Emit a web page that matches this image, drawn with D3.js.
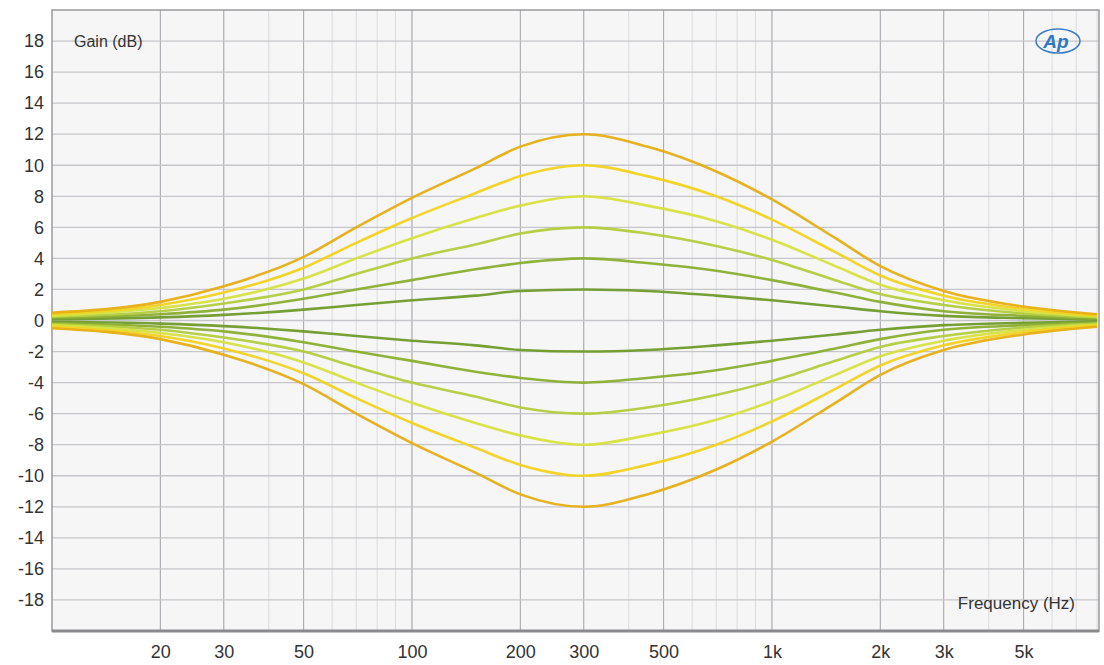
<!DOCTYPE html>
<html><head><meta charset="utf-8">
<script src="https://cdn.jsdelivr.net/npm/d3@7"></script>
<style>body{margin:0;background:#fff}svg text{font-family:"Liberation Sans",Arial,sans-serif}</style>
</head><body><svg id="c" width="1104" height="665"></svg>
<script>
const freqs=[10,20,30,50,70,100,150,200,300,450,700,1000,1500,2000,3000,5000,8000];
const g12=[0.5,1.2,2.2,4.1,6.0,7.9,9.8,11.2,12,11.2,9.6,7.8,5.3,3.5,1.9,0.9,0.4];
const g10=[0.4,1.0,1.8,3.4,5.0,6.6,8.2,9.3,10,9.3,8.0,6.5,4.4,2.9,1.6,0.75,0.33];
const g8=[0.3,0.8,1.4,2.7,4.0,5.3,6.6,7.4,8,7.4,6.4,5.2,3.5,2.3,1.3,0.6,0.26];
const g6=[0.24,0.6,1.1,2.0,3.0,4.0,4.9,5.6,6,5.6,4.8,3.9,2.6,1.7,1.0,0.45,0.2];
const g4=[0.16,0.4,0.7,1.4,2.0,2.6,3.3,3.7,4,3.7,3.2,2.6,1.8,1.2,0.6,0.3,0.13];
const g2=[0.08,0.2,0.36,0.7,1.0,1.3,1.6,1.9,2,1.9,1.6,1.3,0.9,0.6,0.3,0.15,0.07];
const m2=[-0.08,-0.2,-0.36,-0.7,-1.0,-1.3,-1.6,-1.9,-2,-1.9,-1.6,-1.3,-0.9,-0.6,-0.3,-0.15,-0.07];
const m4=[-0.16,-0.4,-0.7,-1.4,-2.0,-2.6,-3.3,-3.7,-4,-3.7,-3.2,-2.6,-1.8,-1.2,-0.6,-0.3,-0.13];
const m6=[-0.24,-0.6,-1.1,-2.0,-3.0,-4.0,-4.9,-5.6,-6,-5.6,-4.8,-3.9,-2.6,-1.7,-1.0,-0.45,-0.2];
const m8=[-0.3,-0.8,-1.4,-2.7,-4.0,-5.3,-6.6,-7.4,-8,-7.4,-6.4,-5.2,-3.5,-2.3,-1.3,-0.6,-0.26];
const m10=[-0.4,-1.0,-1.8,-3.4,-5.0,-6.6,-8.2,-9.3,-10,-9.3,-8.0,-6.5,-4.4,-2.9,-1.6,-0.75,-0.33];
const m12=[-0.5,-1.2,-2.2,-4.1,-6.0,-7.9,-9.8,-11.2,-12,-11.2,-9.6,-7.8,-5.3,-3.5,-1.9,-0.9,-0.4];
const seriesList=[g2,m2,g4,m4,g6,m6,g8,m8,g10,m10,g12,m12];
const colors=["#6f9a2a","#6f9a2a","#8aae30","#8aae30","#b2cc3c","#b2cc3c","#d6e23e","#d6e23e","#f2d21c","#f2d21c","#e6ae12","#e6ae12"];
const yTicks=d3.range(-18,19,2);
const xTickVals=[20,30,50,100,200,300,500,1000,2000,3000,5000];
const xTickLabels=["20","30","50","100","200","300","500","1k","2k","3k","5k"];

const L=52,R=1099,T=10,B=631;
const svg=d3.select("#c");
const x=d3.scaleLog().domain([10,8100]).range([L,R]);
const y=d3.scaleLinear().domain([-20,20]).range([B,T]);
svg.append("rect").attr("x",L).attr("y",T).attr("width",R-L).attr("height",B-T).attr("fill","#f6f6f7");
const minor=[];[10,100,1000].forEach(d=>{for(let k=1;k<10;k++){const v=d*k;if(v>10&&v<8100)minor.push(v);}});
svg.append("g").selectAll("line").data(minor).join("line")
 .attr("x1",d=>x(d)).attr("x2",d=>x(d)).attr("y1",T).attr("y2",B).attr("stroke","#dcdcdf").attr("stroke-width",1);
svg.append("g").selectAll("line").data(xTickVals).join("line")
 .attr("x1",d=>x(d)).attr("x2",d=>x(d)).attr("y1",T).attr("y2",B).attr("stroke","#a9a9ad").attr("stroke-width",1);
svg.append("g").selectAll("line").data(yTicks).join("line")
 .attr("x1",L).attr("x2",R).attr("y1",d=>y(d)).attr("y2",d=>y(d)).attr("stroke","#c6c6ca").attr("stroke-width",1.3);
svg.append("rect").attr("x",L).attr("y",T).attr("width",R-L).attr("height",B-T).attr("fill","none").attr("stroke","#9a9a9e").attr("stroke-width",1.5);
svg.append("line").attr("x1",L).attr("x2",R).attr("y1",B).attr("y2",B).attr("stroke","#8a8a8e").attr("stroke-width",3);
const ya=svg.append("g").attr("transform",`translate(${L},0)`).call(d3.axisLeft(y).tickValues(yTicks).tickFormat(d=>String(d)).tickSize(0).tickPadding(8));
ya.select(".domain").remove();
ya.selectAll("text").attr("font-size",18).attr("fill","#333");
const xa=svg.append("g").attr("transform",`translate(0,${B})`).call(d3.axisBottom(x).tickValues(xTickVals).tickFormat((d,i)=>xTickLabels[i]).tickSize(0).tickPadding(14));
xa.select(".domain").remove();
xa.selectAll("text").attr("font-size",18).attr("fill","#333");
const line=d3.line().x((d,i)=>x(freqs[i])).y(d=>y(d)).curve(d3.curveMonotoneX);
svg.append("clipPath").attr("id","cp").append("rect").attr("x",L).attr("y",T).attr("width",R-L).attr("height",B-T);
const g=svg.append("g").attr("clip-path","url(#cp)");
seriesList.forEach((s,i)=>{
 g.append("path").attr("d",line(s)).attr("fill","none").attr("stroke",colors[i]).attr("stroke-width",2.6).attr("opacity",0.95);
});
svg.append("text").attr("x",74).attr("y",47).attr("font-size",16).attr("fill","#333").text("Gain (dB)");
svg.append("text").attr("x",1075).attr("y",609).attr("font-size",17).attr("fill","#333").attr("text-anchor","end").text("Frequency (Hz)");
svg.append("ellipse").attr("cx",1058).attr("cy",41).attr("rx",22).attr("ry",12).attr("fill","none").attr("stroke","#3a7fc8").attr("stroke-width",1.5);
svg.append("text").attr("x",1056).attr("y",48).attr("font-size",19).attr("font-style","italic").attr("font-weight","bold").attr("fill","#2f78c4").attr("text-anchor","middle").text("Ap");
</script></body></html>
